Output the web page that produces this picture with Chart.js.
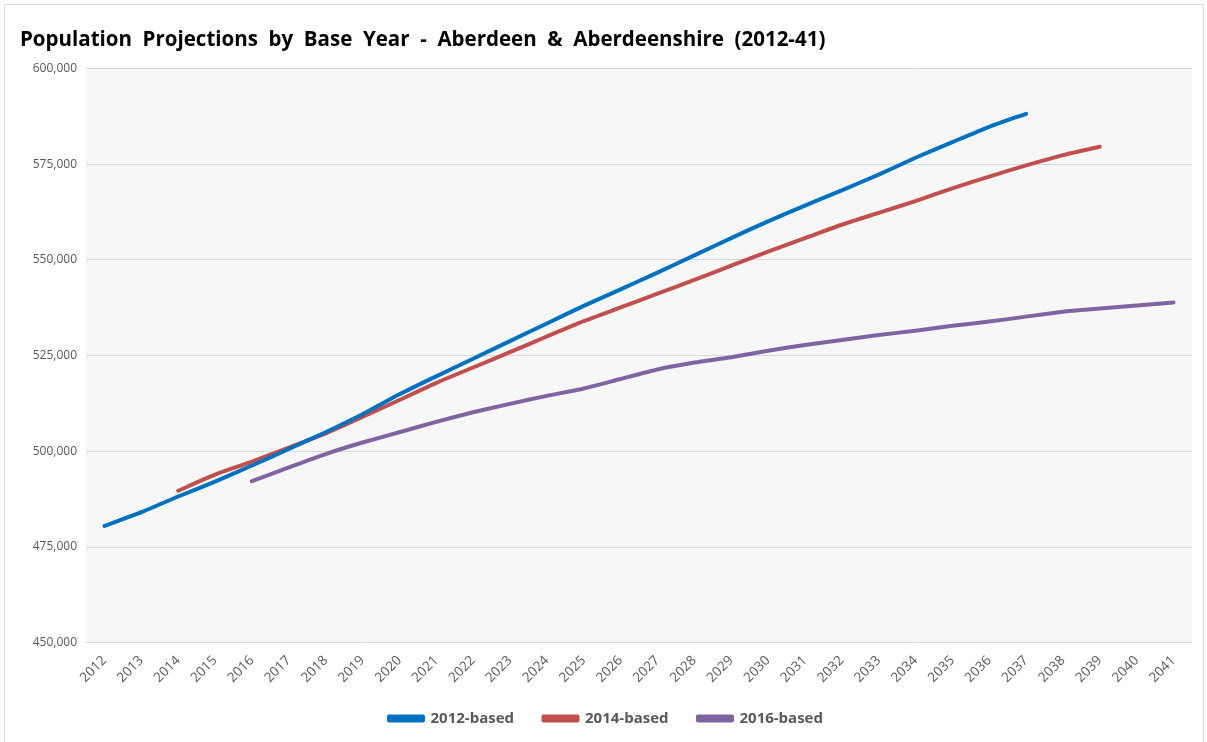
<!DOCTYPE html>
<html>
<head>
<meta charset="utf-8">
<script src="https://cdn.jsdelivr.net/npm/chart.js@4"></script>
<style>
  html, body { margin: 0; padding: 0; background: #fff; }
  #wrap { width: 1207px; height: 742px; }
</style>
</head>
<body>
<div id="wrap"><canvas id="chart" width="1207" height="742"></canvas></div>
<script>
const years = ["2012","2013","2014","2015","2016","2017","2018","2019","2020","2021",
  "2022","2023","2024","2025","2026","2027","2028","2029","2030","2031",
  "2032","2033","2034","2035","2036","2037","2038","2039","2040","2041"];

const based2012 = [480500, 484100, 488200, 492100, 496300, 500600, 505000, 509700, 514900, 519600,
  524200, 528800, 533400, 538000, 542300, 546700, 551200, 555700, 560100, 564200,
  568200, 572300, 576700, 580800, 584800, 588200, null, null, null, null];

const based2014 = [null, null, 489700, 493900, 497300, 501000, 504700, 509000, 513400, 517900,
  521900, 525900, 530000, 534000, 537600, 541200, 544800, 548500, 552200, 555700,
  559200, 562300, 565400, 568700, 571800, 574700, 577400, 579600, null, null];

const based2016 = [null, null, null, null, 492200, 495800, 499300, 502300, 505000, 507700,
  510200, 512400, 514500, 516400, 518900, 521400, 523200, 524600, 526300, 527800,
  529100, 530400, 531500, 532800, 533900, 535200, 536500, 537300, 538100, 538900];

const yTicks = [450000, 475000, 500000, 525000, 550000, 575000, 600000];

const textColor = "#595959";
const gridColor = "#d9d9d9";

// plot background + outer frame
const backdrop = {
  id: "backdrop",
  beforeDraw(chart) {
    const { ctx, chartArea } = chart;
    ctx.save();
    ctx.strokeStyle = "#d9d9d9";
    ctx.lineWidth = 1;
    ctx.strokeRect(4.5, 4.5, 1199, 760);
    ctx.fillStyle = "#f7f7f7";
    ctx.fillRect(chartArea.left, chartArea.top, chartArea.right - chartArea.left, chartArea.bottom - chartArea.top);
    ctx.restore();
  }
};

const makeSet = (label, data, color) => ({
  label: label,
  data: data,
  borderColor: color,
  backgroundColor: color,
  borderWidth: 4,
  borderCapStyle: "round",
  borderJoinStyle: "round",
  pointRadius: 0,
  pointHoverRadius: 0,
  tension: 0.2,
  spanGaps: false
});

new Chart(document.getElementById("chart"), {
  type: "line",
  data: {
    labels: years,
    datasets: [
      makeSet("2012-based", based2012, "#0070C0"),
      makeSet("2014-based", based2014, "#C0504D"),
      makeSet("2016-based", based2016, "#8064A2")
    ]
  },
  options: {
    responsive: false,
    animation: false,
    events: [],
    layout: { padding: { left: 20, right: 15, top: 0, bottom: 6 } },
    scales: {
      x: {
        offset: true,
        grid: { display: false },
        border: { display: false },
        afterFit(scale) { scale.height += 13; },
        ticks: {
          color: textColor,
          font: { family: "Open Sans", size: 13.5 },
          minRotation: 45,
          maxRotation: 45,
          autoSkip: false,
          padding: 2
        }
      },
      y: {
        min: 450000,
        max: 600000,
        afterFit(scale) { scale.width = 66; },
        afterBuildTicks(scale) { scale.ticks = yTicks.map(v => ({ value: v })); },
        grid: { color: gridColor, lineWidth: 1, drawTicks: false },
        border: { display: false },
        ticks: {
          color: textColor,
          font: { family: "Open Sans", size: 12 },
          padding: 9,
          callback: v => v.toLocaleString("en-GB")
        }
      }
    },
    plugins: {
      title: {
        display: true,
        text: "Population  Projections  by  Base  Year  -  Aberdeen  &  Aberdeenshire  (2012-41)",
        align: "start",
        color: "#000",
        font: { family: "Open Sans", size: 20.5, weight: "bold" },
        padding: { top: 28, bottom: 16 }
      },
      legend: {
        position: "bottom",
        labels: {
          color: textColor,
          font: { family: "Open Sans", size: 15, weight: "bold" },
          boxWidth: 34,
          boxHeight: 4,
          padding: 10,
          generateLabels(chart) {
            const items = Chart.defaults.plugins.legend.labels.generateLabels(chart);
            // wider gap between legend entries
            items.forEach((it, i) => { if (i < items.length - 1) it.text += "     "; });
            return items;
          }
        }
      },
      tooltip: { enabled: false }
    }
  },
  plugins: [backdrop]
});
</script>
</body>
</html>
